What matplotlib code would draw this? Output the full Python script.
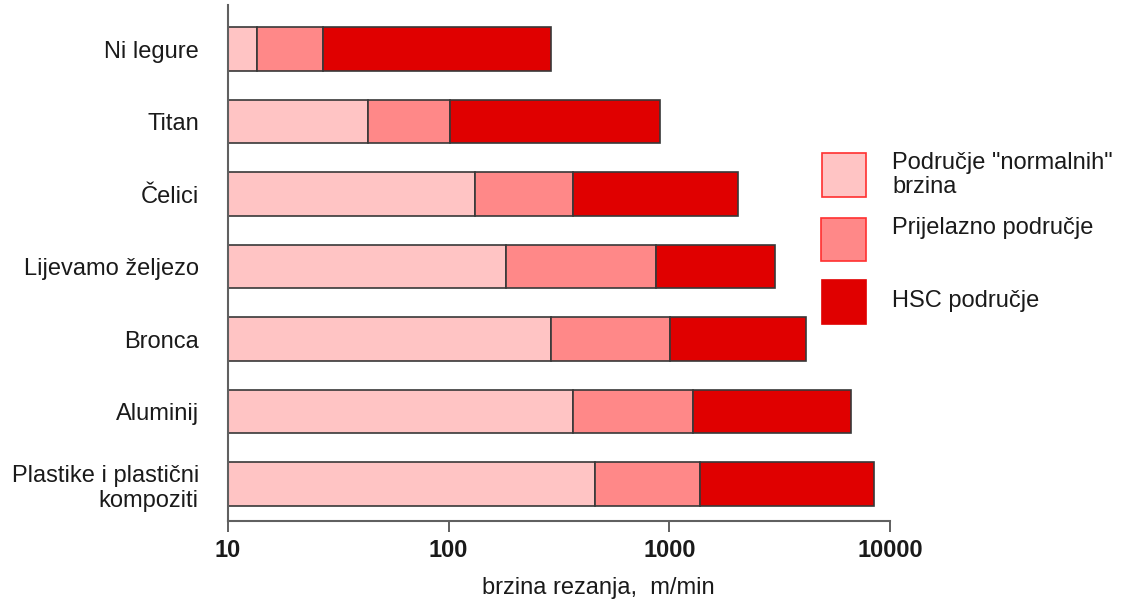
import matplotlib
matplotlib.use("Agg")
import matplotlib.pyplot as plt
from matplotlib.patches import Rectangle
import numpy as np

plt.rcParams["font.family"] = ["Liberation Sans", "DejaVu Sans"]

# data (cutting speed, m/min, log scale)
materials = ["Ni legure", "Titan", "Čelici", "Lijevamo željezo", "Bronca",
             "Aluminij", "Plastike i plastični\nkompoziti"]
range_start = [10, 10, 10, 10, 10, 10, 10]
normal_end = [13.5, 43, 132, 181, 291, 365, 460]
transition_end = [27, 101, 365, 867, 1009, 1275, 1380]
hsc_end = [290, 905, 2050, 3020, 4145, 6630, 8430]

legend_labels = ['Područje "normalnih"\nbrzina', "Prijelazno područje", "HSC područje"]
colors = ["#FFC4C4", "#FF8888", "#E00000"]
edge = "#383838"

fig = plt.figure(figsize=(11.26, 6.05), dpi=100)
ax = fig.add_axes([228 / 1126, 1 - 521 / 605, (890 - 228) / 1126, (521 - 5) / 605])

y = np.arange(len(materials))
lefts = [range_start, normal_end, transition_end]
rights = [normal_end, transition_end, hsc_end]
for left, right, c in zip(lefts, rights, colors):
    left = np.array(left, dtype=float)
    right = np.array(right, dtype=float)
    ax.barh(y, right - left, left=left, height=0.6, color=c,
            edgecolor=edge, linewidth=1.2)

ax.set_xscale("log")
ax.set_xlim(10, 10000)
ax.set_ylim(len(materials) - 1 + 0.51, -0.607)
ax.set_xticks([10, 100, 1000, 10000])
ax.set_xticklabels(["10", "100", "1000", "10000"], fontsize=17, fontweight="bold",
                   color="#1a1a1a")
ax.minorticks_off()
ax.set_yticks(y)
ax.set_yticklabels(materials, fontsize=17, color="#1a1a1a", linespacing=1.2)
ax.tick_params(axis="y", length=0, pad=21)
ax.tick_params(axis="x", length=8, width=1.4, color="#606060", pad=5)

for s in ["top", "right"]:
    ax.spines[s].set_visible(False)
for s in ["left", "bottom"]:
    ax.spines[s].set_color("#606060")
    ax.spines[s].set_linewidth(1.5)

fig.text(482 / 1126, 1 - 588 / 605, "brzina rezanja,  m/min", fontsize=17,
         color="#1a1a1a", ha="left", va="center")

# hand-drawn legend on the right
patch_boxes = [(822, 153, 44, 44), (821, 218, 45, 43), (822, 280, 44, 44)]
patch_edges = ["#FF3030", "#FF3030", "#E00000"]
text_y = [175, 228, 301]
for (px, py, pw, ph), c, ec, lab, ty in zip(patch_boxes, colors, patch_edges,
                                             legend_labels, text_y):
    fig.add_artist(Rectangle((px / 1126, 1 - (py + ph) / 605), pw / 1126, ph / 605,
                             transform=fig.transFigure, facecolor=c,
                             edgecolor=ec, linewidth=1.2))
    fig.text(892 / 1126, 1 - ty / 605, lab, fontsize=17, color="#1a1a1a",
             ha="left", va="center", linespacing=1.15)

fig.savefig("out.png", dpi=100)
